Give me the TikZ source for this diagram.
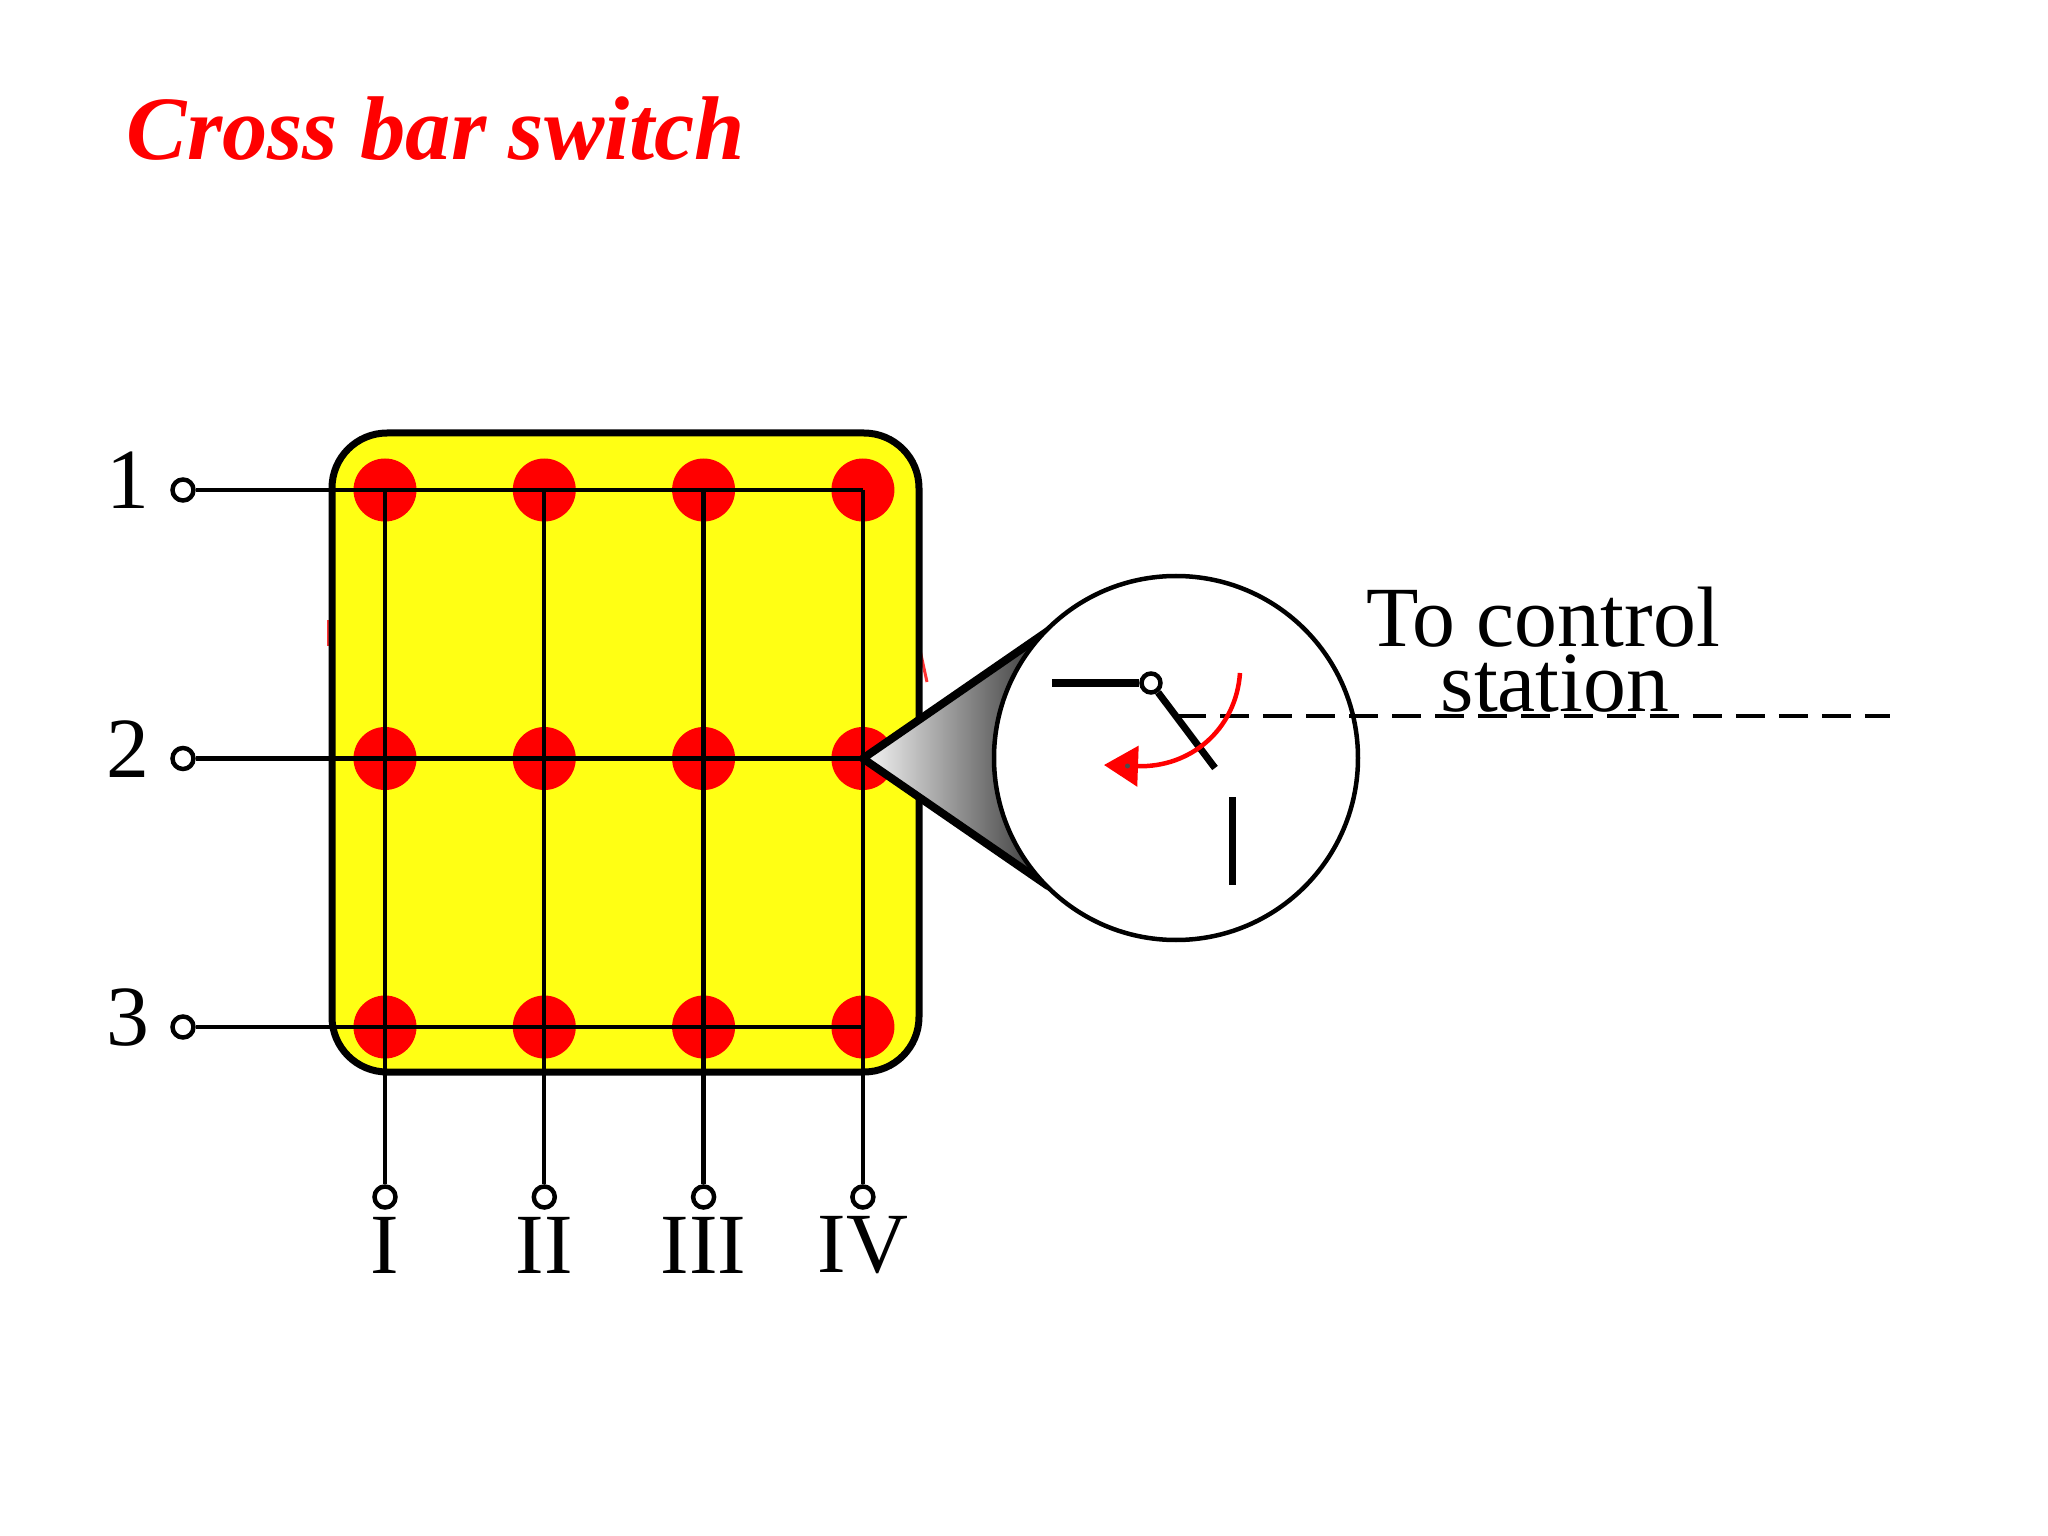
\documentclass[tikz,border=0pt]{standalone}
\usepackage{fontspec}
\setmainfont{Liberation Serif}
\usetikzlibrary{arrows.meta}
\usetikzlibrary{positioning}
\definecolor{panelyellow}{RGB}{255,255,20}
\tikzset{
	panel/.style={
		rectangle,
		rounded corners=.55cm,
		fill=panelyellow,
		draw=black, line width=.07cm,
		inner sep=0pt,
		minimum width=5.87cm,
		minimum height=6.39cm},
	crosspoint/.style={circle, fill=red, inner sep=0pt, minimum size=.63cm},
	terminal/.style={circle, draw=black, fill=white, line width=.045cm, inner sep=0pt, minimum size=.21cm},
	wire/.style={draw, line width=.043cm},
	switchline/.style={draw, line width=.07cm},
	cone/.style={draw, line width=.08cm, line join=round, left color=black!3, right color=black!85},
	lens/.style={circle, draw=black, fill=white, line width=.045cm, inner sep=0pt, minimum size=3.64cm},
	caption/.style={font=\fontsize{24.4}{24.4}\selectfont, inner sep=0pt},
	headline/.style={font=\bfseries\itshape\fontsize{25.75}{25.75}\selectfont, text=red, inner sep=0pt, anchor=base west},
}

\begin{document}
\begin{tikzpicture}
		[on grid, node distance=2.685cm and 1.593cm]
		\useasboundingbox (0,0) rectangle (20.48,-15.36);
		\node[headline] (title) at (1.26,-1.60) {Cross bar switch};

		% stray marks behind the panel
		\coordinate (marka) at (3.28,-6.20);
		\coordinate (markb) at (3.28,-6.46);
		\coordinate (markc) at (9.20,-6.50);
		\coordinate (markd) at (9.27,-6.82);
		\draw[red!80, line width=.03cm] (marka) -- (markb);
		\draw[red!80, line width=.03cm] (markc) -- (markd);

		\node[panel] (board) at (6.255,-7.525) {};

		\node[crosspoint] (a1) at (3.85,-4.90) {};
		\node[crosspoint, right=of a1] (a2) {};
		\node[crosspoint, right=of a2] (a3) {};
		\node[crosspoint, right=of a3] (a4) {};
		\node[crosspoint, below=of a1] (b1) {};
		\node[crosspoint, right=of b1] (b2) {};
		\node[crosspoint, right=of b2] (b3) {};
		\node[crosspoint, right=of b3] (b4) {};
		\node[crosspoint, below=of b1] (c1) {};
		\node[crosspoint, right=of c1] (c2) {};
		\node[crosspoint, right=of c2] (c3) {};
		\node[crosspoint, right=of c3] (c4) {};

		\node[terminal, left=2.02cm of a1] (row1) {};
		\node[terminal, left=2.02cm of b1] (row2) {};
		\node[terminal, left=2.02cm of c1] (row3) {};
		\node[terminal, below=1.70cm of c1] (col1) {};
		\node[terminal, below=1.70cm of c2] (col2) {};
		\node[terminal, below=1.70cm of c3] (col3) {};
		\node[terminal, below=1.70cm of c4] (col4) {};

		\draw[wire] (row1) -- (a4.center);
		\draw[wire] (row2) -- (b4.center);
		\draw[wire] (row3) -- (c4.center);
		\draw[wire] (a1.center) -- (col1);
		\draw[wire] (a2.center) -- (col2);
		\draw[wire] (a3.center) -- (col3);
		\draw[wire] (a4.center) -- (col4);

		\node[caption, above left=.10cm and .55cm of row1] (one) {1};
		\node[caption, above left=.09cm and .55cm of row2] (two) {2};
		\node[caption, above left=.09cm and .55cm of row3] (three) {3};
		\node[caption, below=.48cm of col1] (romani) {I};
		\node[caption, below=.48cm of col2] (romanii) {II};
		\node[caption, below=.48cm of col3] (romaniii) {III};
		\node[caption, below=.48cm of col4] (romaniv) {IV};

		% magnified crosspoint
		\coordinate (conetop) at (10.58,-6.24);
		\coordinate (conebot) at (10.48,-8.86);
		\draw[cone] (b4.center) -- (conetop) -- (conebot) -- cycle;
		\node[lens] (zoomlens) at (11.76,-7.58) {};

		\coordinate (armstart) at (10.52,-6.83);
		\coordinate (armend) at (12.15,-7.68);
		\coordinate (contacttop) at (12.32,-7.97);
		\coordinate (contactbot) at (12.32,-8.85);
		\coordinate (dashstart) at (11.77,-7.16);
		\coordinate (dashend) at (18.90,-7.16);
		\coordinate (turnstart) at (12.40,-6.73);
		\coordinate (turnend) at (11.04,-7.65);

		\node[terminal, minimum size=.19cm] (pivot) at (11.51,-6.83) {};
		\draw[switchline] (armstart) -- (pivot);
		\draw[switchline] (pivot) -- (armend);
		\draw[switchline] (contacttop) -- (contactbot);
		\draw[draw, line width=.04cm, dash pattern=on .29cm off .14cm] (dashstart) -- (dashend);
		\draw[draw=red, line width=.045cm, -{Triangle[length=.34cm,width=.40cm]}] (turnstart) .. controls (12.36,-7.30) and (11.90,-7.68) .. (turnend);
		\node[circle, fill=black!70, inner sep=0pt, minimum size=.05cm] (turndot) at (11.275,-7.66) {};

		\node[caption, anchor=base] (ctrla) at (15.43,-6.46) {To control};
		\node[caption, anchor=base] (ctrlb) at (15.55,-7.12) {station};
\end{tikzpicture}
\end{document}
